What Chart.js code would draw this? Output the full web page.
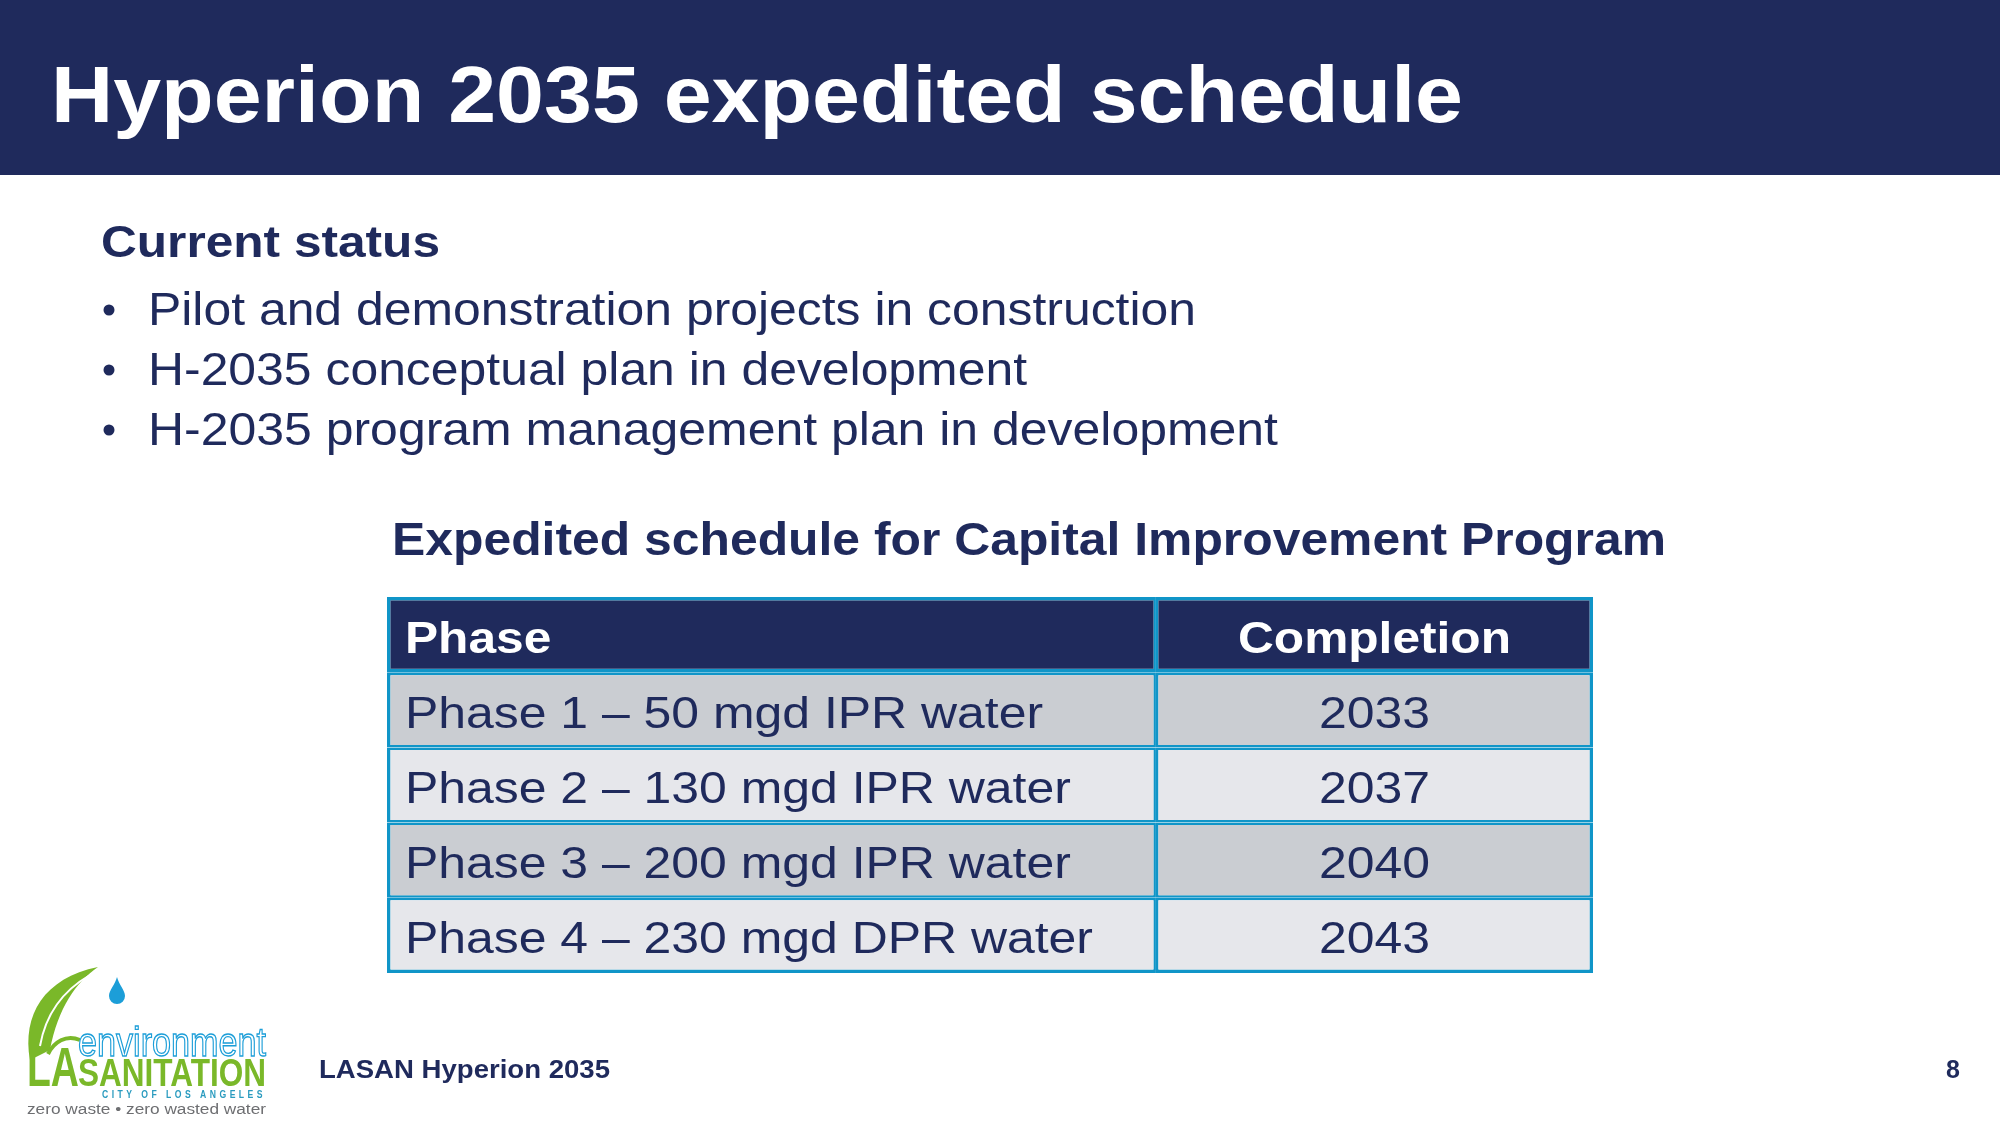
<!DOCTYPE html>
<html>
<head>
<meta charset="utf-8">
<script src="https://cdn.jsdelivr.net/npm/chart.js@4.4.1/dist/chart.umd.min.js"></script>
<style>
  html, body { margin: 0; padding: 0; background: #ffffff; overflow: hidden; }
  canvas { display: block; }
</style>
</head>
<body>
<canvas id="slide" width="2000" height="1125" style="width:2000px;height:1125px"></canvas>
<script>
// ---------------- data ----------------
const slideTitle = 'Hyperion 2035 expedited schedule';
const statusHeading = 'Current status';
const statusBullets = [
  'Pilot and demonstration projects in construction',
  'H-2035 conceptual plan in development',
  'H-2035 program management plan in development'
];
const tableTitle = 'Expedited schedule for Capital Improvement Program';
const columnHeaders = ['Phase', 'Completion'];
const phaseLabels = [
  'Phase 1 – 50 mgd IPR water',
  'Phase 2 – 130 mgd IPR water',
  'Phase 3 – 200 mgd IPR water',
  'Phase 4 – 230 mgd DPR water'
];
const completionYears = [2033, 2037, 2040, 2043];
const footerText = 'LASAN Hyperion 2035';
const pageNumber = '8';

// ---------------- styling ----------------
const NAVY = '#1f2a5c';
const BORDER = '#1095c8';
const FONT = '"Liberation Sans", Arial, Helvetica, sans-serif';
const ROW_FILLS = [NAVY, '#cacdd2', '#e6e7eb', '#cacdd2', '#e6e7eb'];
const COL_SPLIT = 0.6376;

const rowLabels = [columnHeaders[0]].concat(phaseLabels);
const rowCells = [columnHeaders[1]].concat(completionYears.map(String));

function drawText(ctx, s, x, y, o) {
  ctx.save();
  ctx.font = (o.bold ? 'bold ' : '') + o.size + 'px ' + FONT;
  if (o.spacing) ctx.letterSpacing = o.spacing + 'px';
  ctx.textBaseline = 'alphabetic';
  ctx.textAlign = 'left';
  const m = ctx.measureText(s).width;
  const sx = o.width ? o.width / m : (o.stretch || 1);
  const w = m * sx;
  let x0 = x;
  if (o.align === 'center') x0 = x - w / 2;
  else if (o.align === 'right') x0 = x - w;
  ctx.translate(x0, y);
  ctx.scale(sx, 1);
  if (o.stroke) {
    ctx.fillStyle = o.fill || '#fff';
    ctx.fillText(s, 0, 0);
    ctx.strokeStyle = o.stroke;
    ctx.lineWidth = o.lineWidth || 1.5;
    ctx.strokeText(s, 0, 0);
  } else {
    ctx.fillStyle = o.color;
    ctx.fillText(s, 0, 0);
  }
  ctx.restore();
}

function measure(ctx, s, size, bold) {
  ctx.save();
  ctx.font = (bold ? 'bold ' : '') + size + 'px ' + FONT;
  const w = ctx.measureText(s).width;
  ctx.restore();
  return w;
}

function drawLogo(ctx) {
  const G = '#7ab829', B = '#1c9ed8';
  ctx.save();
  // leaf
  ctx.fillStyle = G;
  ctx.beginPath();
  ctx.moveTo(30, 1060);
  ctx.bezierCurveTo(22, 1015, 44, 978, 98, 967);
  ctx.bezierCurveTo(76, 982, 58, 1008, 50, 1050);
  ctx.closePath();
  ctx.fill();
  ctx.strokeStyle = '#ffffff';
  ctx.lineWidth = 2;
  ctx.beginPath();
  ctx.moveTo(40, 1046);
  ctx.bezierCurveTo(46, 1012, 64, 990, 90, 975);
  ctx.stroke();
  ctx.strokeStyle = G;
  ctx.lineWidth = 4;
  ctx.beginPath();
  ctx.moveTo(48, 1054);
  ctx.bezierCurveTo(54, 1042, 66, 1034, 80, 1040);
  ctx.stroke();
  // water drop
  ctx.fillStyle = B;
  ctx.beginPath();
  ctx.moveTo(117, 977);
  ctx.bezierCurveTo(119, 985, 125, 990, 125, 996);
  ctx.arc(117, 996, 8, 0, Math.PI, false);
  ctx.bezierCurveTo(109, 990, 115, 985, 117, 977);
  ctx.fill();
  ctx.restore();
  drawText(ctx, 'environment', 78, 1056, { size: 40, width: 188, stroke: B, fill: '#ffffff', lineWidth: 1.3 });
  drawText(ctx, 'LA', 27, 1086, { size: 56, bold: true, width: 52, color: G });
  drawText(ctx, 'SANITATION', 78, 1086, { size: 38, bold: true, width: 188, color: G });
  drawText(ctx, 'CITY OF LOS ANGELES', 102, 1098, { size: 10, bold: true, spacing: 4, width: 164, color: '#2a9bbf' });
  drawText(ctx, 'zero waste • zero wasted water', 27, 1114, { size: 14, width: 239, color: '#6d6e71' });
}

const slidePlugin = {
  id: 'slide',
  beforeDraw(chart) {
    const ctx = chart.ctx;
    ctx.save();
    ctx.fillStyle = '#ffffff';
    ctx.fillRect(0, 0, chart.width, chart.height);
    ctx.fillStyle = NAVY;
    ctx.fillRect(0, 0, chart.width, 175);
    ctx.restore();
    drawText(ctx, slideTitle, 51, 122, { size: 79, bold: true, width: 1412, color: '#ffffff' });
    drawText(ctx, statusHeading, 101, 257, { size: 45, bold: true, width: 339, color: NAVY });
    const bulletBaselines = [325, 385, 445];
    const bulletWidths = [1048, 879, 1130];
    statusBullets.forEach((b, i) => {
      ctx.save();
      ctx.fillStyle = NAVY;
      ctx.beginPath();
      ctx.arc(109, bulletBaselines[i] - 15, 5.5, 0, Math.PI * 2);
      ctx.fill();
      ctx.restore();
      drawText(ctx, b, 148, bulletBaselines[i], { size: 46, width: bulletWidths[i], color: NAVY });
    });
    drawText(ctx, tableTitle, 392, 555, { size: 47, bold: true, width: 1274, color: NAVY });
    drawText(ctx, footerText, 319, 1078, { size: 25, bold: true, width: 291, color: NAVY });
    drawText(ctx, pageNumber, 1960, 1078, { size: 25, bold: true, align: 'right', color: NAVY });
    drawLogo(ctx);
  },
  afterDatasetsDraw(chart) {
    const ctx = chart.ctx;
    const m0 = chart.getDatasetMeta(0);
    const m1 = chart.getDatasetMeta(1);
    const rowSize = 45;
    const rowStretch = 638 / measure(ctx, phaseLabels[0], rowSize, false);
    const headStretch = 273 / measure(ctx, columnHeaders[1], rowSize, true);
    rowLabels.forEach((label, i) => {
      const a = m0.data[i].getProps(['x', 'y', 'base'], true);
      const b = m1.data[i].getProps(['x', 'y', 'base'], true);
      const head = i === 0;
      const color = head ? '#ffffff' : NAVY;
      const baseY = a.y + 18;
      drawText(ctx, label, Math.min(a.base, a.x) + 18, baseY,
        { size: rowSize, bold: head, stretch: head ? headStretch : rowStretch, color });
      drawText(ctx, rowCells[i], (b.base + b.x) / 2, baseY,
        { size: rowSize, bold: head, stretch: head ? headStretch : rowStretch, color, align: 'center' });
    });
  }
};

const lastRow = rowLabels.length - 1;
function cellBorder(c) {
  const i = c.dataIndex, d = c.datasetIndex;
  return {
    top: i === 0 ? 3.5 : (i === 1 ? 3 : 2.5),
    bottom: i === lastRow ? 3.5 : (i === 0 ? 3.5 : 2.5),
    left: d === 0 ? 3.5 : 2.5,
    right: d === 1 ? 3.5 : 2.5
  };
}

function build() {
  new Chart(document.getElementById('slide'), {
    type: 'bar',
    data: {
      labels: rowLabels,
      datasets: [
        {
          label: columnHeaders[0],
          data: rowLabels.map(() => [0, COL_SPLIT]),
          backgroundColor: ROW_FILLS,
          borderColor: BORDER,
          borderWidth: cellBorder,
          borderSkipped: false,
          inflateAmount: 0,
          barPercentage: 1,
          categoryPercentage: 1
        },
        {
          label: columnHeaders[1],
          data: rowCells.map(() => [COL_SPLIT, 1]),
          backgroundColor: ROW_FILLS,
          borderColor: BORDER,
          borderWidth: cellBorder,
          borderSkipped: false,
          inflateAmount: 0,
          barPercentage: 1,
          categoryPercentage: 1
        }
      ]
    },
    options: {
      indexAxis: 'y',
      responsive: false,
      maintainAspectRatio: false,
      devicePixelRatio: 1,
      animation: false,
      events: [],
      layout: { padding: { left: 387, right: 407, top: 597, bottom: 152 } },
      scales: {
        x: { type: 'linear', min: 0, max: 1, display: false, stacked: false },
        y: { type: 'category', display: false, stacked: true, offset: true, grid: { display: false } }
      },
      plugins: { legend: { display: false }, tooltip: { enabled: false }, title: { display: false } }
    },
    plugins: [slidePlugin]
  });
}

if (document.fonts && document.fonts.load) {
  Promise.all([
    document.fonts.load('bold 40px "Liberation Sans"'),
    document.fonts.load('40px "Liberation Sans"')
  ]).then(build, build);
} else {
  build();
}
</script>
</body>
</html>
